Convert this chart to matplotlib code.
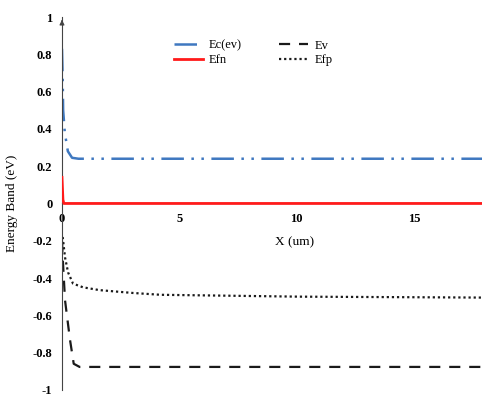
import matplotlib
matplotlib.use("Agg")
import matplotlib.pyplot as plt

plt.rcParams['font.family'] = ['Liberation Serif', 'DejaVu Serif']

# Data
ec_x = [0, 0.03, 0.05, 0.12, 0.25, 0.43, 0.7, 2, 18]
ec_y = [0.83, 0.67, 0.50, 0.38, 0.28, 0.245, 0.24, 0.24, 0.24]

efn_x = [0, 0.02, 0.04, 0.08, 18]
efn_y = [0.14, 0.08, 0.02, 0.0, 0.0]

ev_x = [0, 0.03, 0.13, 0.34, 0.5, 0.75, 2, 18]
ev_y = [-0.2, -0.29, -0.52, -0.73, -0.86, -0.877, -0.877, -0.877]

efp_x = [0.03, 0.13, 0.26, 0.47, 0.9, 1.6, 3.0, 4.2, 10.1, 18]
efp_y = [-0.18, -0.29, -0.37, -0.43, -0.45, -0.465, -0.48, -0.49, -0.50, -0.505]

x_ticks = [0, 5, 10, 15]
y_ticks = [-1, -0.8, -0.6, -0.4, -0.2, 0, 0.2, 0.4, 0.6, 0.8, 1]
y_labels = ['-1', '-0.8', '-0.6', '-0.4', '-0.2', '0', '0.2', '0.4', '0.6', '0.8', '1']

fig = plt.figure(figsize=(4.82, 3.97), dpi=100)
ax = fig.add_axes([0.1286, 0.018, 0.8714, 0.939])

ax.plot(ec_x, ec_y, color='#3f78c0', lw=1.8, dashes=(9, 3, 1, 3, 1, 3), label='Ec(ev)')
ax.plot(efn_x, efn_y, color='#ff1a1a', lw=2.0, label='Efn', zorder=4)
ax.plot(ev_x, ev_y, color='#1a1a1a', lw=1.6, dashes=(5, 4), label='Ev')
ax.plot(efp_x, efp_y, color='#1a1a1a', lw=1.6, linestyle=(0, (1, 1.3)), label='Efp')

ax.set_xlim(0, 17.9)
ax.set_ylim(-1, 1)

ax.spines['top'].set_visible(False)
ax.spines['right'].set_visible(False)
ax.spines['bottom'].set_position(('data', 0))
ax.spines['left'].set_color('#444444')
ax.spines['bottom'].set_color('#444444')

ax.set_xticks(x_ticks)
ax.set_xticklabels([str(t) for t in x_ticks], fontsize=9, fontweight='bold')
ax.set_yticks(y_ticks)
ax.set_yticklabels(y_labels, fontsize=9, fontweight='bold')
ax.tick_params(axis='both', length=0, pad=7)

# arrow at top of y axis
ax.annotate('', xy=(0, 1.0), xytext=(0, 0.96),
            arrowprops=dict(arrowstyle='-|>', color='#444444', lw=0.8, mutation_scale=7),
            annotation_clip=False)

ax.text(9.9, -0.21, 'X (um)', ha='center', va='center', fontsize=9.5)
ax.set_ylabel('Energy Band (eV)', fontsize=9.5, labelpad=2)
ax.yaxis.set_label_coords(-0.105, 0.5)

handles, labels = ax.get_legend_handles_labels()
leg = ax.legend(handles, labels,
                ncol=2, loc='upper center', bbox_to_anchor=(0.455, 0.97),
                frameon=False, fontsize=9, handlelength=2.3,
                columnspacing=3.0, labelspacing=0.2, handletextpad=0.5)

fig.savefig('out.png', dpi=100)
